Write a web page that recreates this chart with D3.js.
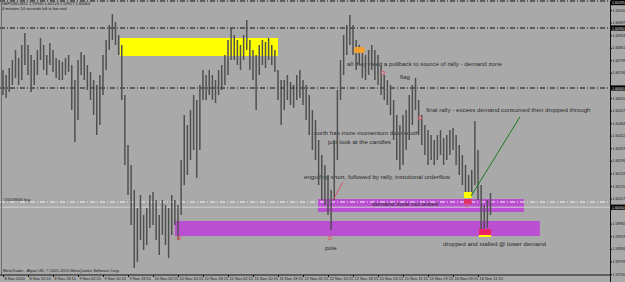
<!DOCTYPE html>
<html>
<head>
<meta charset="utf-8">
<script src="https://cdn.jsdelivr.net/npm/d3@7"></script>
<style>
html, body { margin: 0; padding: 0; background: #a9a9a9; overflow: hidden; }
svg { display: block; }
text { font-family: "Liberation Sans", Arial, sans-serif; }
</style>
</head>
<body>
<div id="chart"></div>
<script>
// GBPUSD hourly high / low
const highs = [
  1.6075, 1.60725, 1.6076, 1.6080, 1.6085, 1.6081, 1.60875, 1.60935, 1.60875, 1.60825,
  1.6080, 1.6085, 1.6091, 1.60875, 1.60825, 1.60885, 1.6085, 1.6081, 1.6080, 1.6079,
  1.6081, 1.60825, 1.60775, 1.6070, 1.6080, 1.6084, 1.60825, 1.60775, 1.6074, 1.6070,
  1.60675, 1.60725, 1.60825, 1.6090, 1.60975, 1.6103, 1.6099, 1.60925, 1.60875, 1.60625,
  1.60375, 1.60275, 1.6015, 1.6006, 1.60125, 1.60025, 1.6006, 1.60125, 1.6014, 1.6010,
  1.60025, 1.6010, 1.60075, 1.6006, 1.60125, 1.6010, 1.60075, 1.6030, 1.60525, 1.60475,
  1.6055, 1.60625, 1.6060, 1.60675, 1.6075, 1.60725, 1.6075, 1.60725, 1.6070, 1.6075,
  1.60775, 1.60825, 1.6090, 1.6096, 1.60925, 1.6090, 1.60875, 1.60925, 1.6100, 1.6090,
  1.6085, 1.60825, 1.60875, 1.6090, 1.6089, 1.6091, 1.60875, 1.6085, 1.6075, 1.6070,
  1.6070, 1.60725, 1.6069, 1.60675, 1.60725, 1.6075, 1.6070, 1.60675, 1.60625, 1.6055,
  1.6050, 1.6040, 1.60325, 1.60275, 1.60225, 1.6015, 1.6040, 1.6065, 1.6080, 1.60925,
  1.60975, 1.61025, 1.60975, 1.6090, 1.60875, 1.6085, 1.60825, 1.6085, 1.60875, 1.6085,
  1.60825, 1.60775, 1.60725, 1.6070, 1.60675, 1.6060, 1.60525, 1.60475, 1.60525, 1.6055,
  1.60625, 1.60675, 1.6071, 1.6060, 1.60525, 1.60475, 1.6045, 1.60425, 1.6040, 1.60425,
  1.6045, 1.6041, 1.60425, 1.6045, 1.6046, 1.60425, 1.60375, 1.60325, 1.60275, 1.60225,
  1.6025, 1.60495, 1.6035, 1.60175, 1.60075, 1.6010, 1.60135
];
const lows = [
  1.60625, 1.6061, 1.6064, 1.60675, 1.6071, 1.60675, 1.6070, 1.60775, 1.60725, 1.6064,
  1.60675, 1.60725, 1.6080, 1.6075, 1.60725, 1.60775, 1.6074, 1.6071, 1.6070, 1.6070,
  1.60725, 1.6074, 1.6055, 1.6039, 1.6050, 1.60725, 1.6070, 1.6065, 1.6060, 1.60525,
  1.60425, 1.60475, 1.60625, 1.6075, 1.6085, 1.6090, 1.60875, 1.60825, 1.6060, 1.60275,
  1.60125, 1.59975, 1.5976, 1.5979, 1.5990, 1.5985, 1.59875, 1.5996, 1.59975, 1.5990,
  1.59825, 1.59925, 1.59875, 1.5981, 1.59925, 1.59975, 1.5990, 1.60025, 1.60175, 1.60225,
  1.6030, 1.6035, 1.6021, 1.6035, 1.6060, 1.6060, 1.60625, 1.6060, 1.60585, 1.60625,
  1.6065, 1.60675, 1.60725, 1.6080, 1.6080, 1.60775, 1.6075, 1.6080, 1.6085, 1.6075,
  1.6070, 1.6055, 1.60725, 1.60775, 1.6076, 1.6080, 1.60775, 1.6074, 1.6060, 1.60475,
  1.6055, 1.6060, 1.60575, 1.6056, 1.6060, 1.6061, 1.60575, 1.6050, 1.60425, 1.6035,
  1.6030, 1.60175, 1.6010, 1.60075, 1.60025, 1.5995, 1.6010, 1.6030, 1.6060, 1.60725,
  1.60825, 1.60875, 1.60825, 1.6075, 1.60775, 1.6071, 1.6070, 1.60725, 1.6075, 1.6070,
  1.60675, 1.60625, 1.6060, 1.60575, 1.60525, 1.6040, 1.6030, 1.6025, 1.60275, 1.6035,
  1.6040, 1.60475, 1.6055, 1.60425, 1.60375, 1.60325, 1.60275, 1.6030, 1.60275, 1.6030,
  1.60325, 1.60275, 1.6030, 1.60325, 1.6035, 1.60275, 1.60225, 1.60175, 1.6014, 1.6011,
  1.60125, 1.60175, 1.6010, 1.5994, 1.5992, 1.5996, 1.60025
];

const timeLabels = [
  '8 Nov 2010', '8 Nov 10:15', '8 Nov 18:15', '9 Nov 02:15', '9 Nov 10:15',
  '9 Nov 18:15', '10 Nov 02:15', '10 Nov 10:15', '10 Nov 18:15', '11 Nov 02:15',
  '11 Nov 10:15', '11 Nov 18:15', '12 Nov 02:15', '12 Nov 10:15', '12 Nov 18:15',
  '15 Nov 03:15', '15 Nov 11:15', '15 Nov 19:15', '16 Nov 03:15', '16 Nov 11:15'
];
const priceTicks = [
  1.61050, 1.60987, 1.60924, 1.60861, 1.60799, 1.60736, 1.60673, 1.60610, 1.60547, 1.60484,
  1.60422, 1.60359, 1.60296, 1.60233, 1.60170, 1.60107, 1.60044, 1.59982, 1.59919, 1.59856,
  1.59793, 1.59730
];

const levelPrices = [1.61095, 1.60960, 1.60660];
const orderPrice = 1.60090;
const bidPrice = 1.60064;

// zones: [bar from, bar to, price top, price bottom]
const yellowZone = [37.4, 88, 1.6091, 1.6082];
const lowerDemand = [55, 171.8, 1.59995, 1.5992];
const upperDemand = [100.8, 166.7, 1.60105, 1.6004];
const yellowMark = [147.5, 150, 1.6014, 1.6011];
const redMark = [147.5, 150, 1.60105, 1.6008];
const pinkBox = [152.3, 156.2, 1.59955, 1.59925];
const pinkBase = [152.3, 156.2, 1.59925, 1.59915];
const orangeMark = [112.3, 115.8, 1.60865, 1.60835];

// arrow signs [bar, price]
const arrowBars = [56.3, 104.6, 121.6, 133.4, 148.5];
const arrowPrices = [1.5991, 1.5991, 1.60735, 1.6051, 1.60075];

// trend lines [bar1, price1, bar2, price2]
const redLine = [105.6, 1.6010, 108.8, 1.6019];
const greenLine = [149.8, 1.6012, 165.4, 1.60515];

const notes = [
  'all they need a pullback to source of rally - demand zone',
  'flag',
  'final rally - excess demand consumed then dropped through',
  'north has more momentum than south',
  'just look at the candles',
  'engulfing short, followed by rally, instutional orderflow',
  'demand zone not tested',
  'pole',
  'dropped and stalled @ lower demand'
];
const noteBars = [110.1, 127, 135.4, 99.5, 104, 96.3, 118.1, 103, 140.8];
const notePrices = [1.6077, 1.60705, 1.6054, 1.60425, 1.6038, 1.60205, 1.6007, 1.5985, 1.5987];

const W = 625, H = 282;
const plotRight = 610, plotBottom = 275;

const x = d3.scaleLinear().domain([0, 8]).range([3, 28]);
const y = d3.scaleLinear().domain([1.611, 1.5969]).range([0, 282]);

const svg = d3.select('#chart').append('svg')
    .attr('width', W)
    .attr('height', H);

svg.append('rect').attr('width', W).attr('height', H).attr('fill', '#a9a9a9');

function box(z, fill) {
    svg.append('rect')
        .attr('x', x(z[0]))
        .attr('y', y(z[2]))
        .attr('width', x(z[1]) - x(z[0]))
        .attr('height', y(z[3]) - y(z[2]))
        .attr('fill', fill);
}

// background zones
box(yellowZone, '#ffff00');
box(lowerDemand, '#bb4fd2');
box(upperDemand, '#bb4fd2');

// horizontal lines
svg.selectAll('.level')
    .data(levelPrices)
    .enter()
    .append('line')
    .attr('class', 'level')
    .attr('x1', 0).attr('x2', plotRight)
    .attr('y1', d => y(d)).attr('y2', d => y(d))
    .attr('stroke', '#111')
    .attr('stroke-width', 1)
    .attr('stroke-dasharray', '5,2,1,2');

svg.append('line')
    .attr('x1', 0).attr('x2', plotRight)
    .attr('y1', y(orderPrice)).attr('y2', y(orderPrice))
    .attr('stroke', '#f4f4f4')
    .attr('stroke-dasharray', '5,2,1,2');

svg.append('line')
    .attr('x1', 0).attr('x2', plotRight)
    .attr('y1', y(bidPrice)).attr('y2', y(bidPrice))
    .attr('stroke', '#d4d4d4');

// texts (drawn under the bars)
svg.selectAll('.note')
    .data(notes)
    .enter()
    .append('text')
    .attr('class', 'note')
    .attr('x', (d, i) => x(noteBars[i]))
    .attr('y', (d, i) => y(notePrices[i]))
    .text(d => d)
    .style('fill', '#2a2a2a')
    .style('font-size', '6.2px');

svg.append('text')
    .attr('x', 3).attr('y', y(orderPrice) - 1.5)
    .text('#33109666 buy')
    .style('fill', '#222').style('font-size', '4px');

// price bars
svg.append('g')
    .selectAll('line')
    .data(highs)
    .enter()
    .append('line')
    .attr('x1', (d, i) => x(i))
    .attr('x2', (d, i) => x(i))
    .attr('y1', d => y(d))
    .attr('y2', (d, i) => y(lows[i]))
    .attr('stroke', '#505050')
    .attr('stroke-width', 1.5);

// markers on top
box(yellowMark, '#ffff00');
box(redMark, '#e0306a');
box(pinkBase, '#ffff00');
box(pinkBox, '#ee2266');
svg.append('rect')
    .attr('x', x(orangeMark[0]))
    .attr('y', y(orangeMark[2]))
    .attr('width', x(orangeMark[1]) - x(orangeMark[0]))
    .attr('height', y(orangeMark[3]) - y(orangeMark[2]))
    .attr('rx', 2)
    .attr('fill', '#f0a030');

svg.selectAll('.arrow')
    .data(arrowBars)
    .enter()
    .append('circle')
    .attr('class', 'arrow')
    .attr('cx', d => x(d))
    .attr('cy', (d, i) => y(arrowPrices[i]))
    .attr('r', 1.8)
    .attr('fill', 'none')
    .attr('stroke', '#e05a6a')
    .attr('stroke-width', 0.9);

svg.append('line')
    .attr('x1', x(redLine[0])).attr('y1', y(redLine[1]))
    .attr('x2', x(redLine[2])).attr('y2', y(redLine[3]))
    .attr('stroke', '#e04050').attr('stroke-width', 0.8);

svg.append('line')
    .attr('x1', x(greenLine[0])).attr('y1', y(greenLine[1]))
    .attr('x2', x(greenLine[2])).attr('y2', y(greenLine[3]))
    .attr('stroke', '#1a7a1a').attr('stroke-width', 1);

// frame
svg.append('line')
    .attr('x1', 1.5).attr('x2', 1.5).attr('y1', 0).attr('y2', plotBottom)
    .attr('stroke', '#6a6a6a');
svg.append('line')
    .attr('x1', 0).attr('x2', plotRight).attr('y1', plotBottom).attr('y2', plotBottom)
    .attr('stroke', '#111');

// price axis; plain ticks that sit under a highlighted label are left out
const marked = levelPrices.concat([bidPrice]);
const freeTicks = priceTicks.filter(p => marked.every(m => Math.abs(y(p) - y(m)) > 5));
const yAxis = svg.append('g')
    .attr('transform', `translate(${plotRight},0)`)
    .call(d3.axisRight(y).tickValues(freeTicks).tickFormat(d3.format('.5f')).tickSize(2).tickSizeOuter(0));
yAxis.select('.domain').attr('stroke', '#111');
yAxis.selectAll('.tick line').attr('stroke', '#111');
yAxis.selectAll('text')
    .attr('x', 2.5)
    .style('font-size', '3.5px')
    .style('font-family', '"Liberation Sans", Arial, sans-serif')
    .style('fill', '#1a1a1a');

// highlighted price labels
marked.forEach(p => {
    svg.append('rect')
        .attr('x', plotRight + 1).attr('y', Math.max(0, y(p) - 2.6))
        .attr('width', W - plotRight - 1).attr('height', 5.2)
        .attr('fill', '#000');
    svg.append('text')
        .attr('x', plotRight + 2).attr('y', Math.max(0, y(p) - 2.6) + 4.1)
        .text(d3.format('.5f')(p))
        .style('fill', '#e8e8e8')
        .style('font-size', '3.5px');
});

// time axis
const xAxis = svg.append('g')
    .attr('transform', `translate(0,${plotBottom})`)
    .call(d3.axisBottom(x).tickValues(d3.range(0, 153, 8)).tickFormat((d, k) => timeLabels[k]).tickSize(2));
xAxis.select('.domain').remove();
xAxis.selectAll('.tick line').attr('stroke', '#111');
xAxis.selectAll('text')
    .attr('y', 2.5)
    .attr('dy', '0.71em')
    .attr('text-anchor', 'start')
    .attr('x', 1)
    .style('font-size', '4px')
    .style('font-family', '"Liberation Sans", Arial, sans-serif')
    .style('fill', '#1a1a1a');

// header and footer
svg.append('text')
    .attr('x', 2).attr('y', 5)
    .text('GBPUSD,M15  1.59940 1.60123 1.59927 1.60064')
    .style('fill', '#1a1a1a').style('font-size', '4px');
svg.append('text')
    .attr('x', 2).attr('y', 10)
    .text('4 minutes 54 seconds left to bar end')
    .style('fill', '#1a1a1a').style('font-size', '4px');
svg.append('text')
    .attr('x', 3).attr('y', 272)
    .text('MetaTrader - Alpari UK, \u00a9 2001-2010 MetaQuotes Software Corp.')
    .style('fill', '#1a1a1a').style('font-size', '4px');
</script>
</body>
</html>
